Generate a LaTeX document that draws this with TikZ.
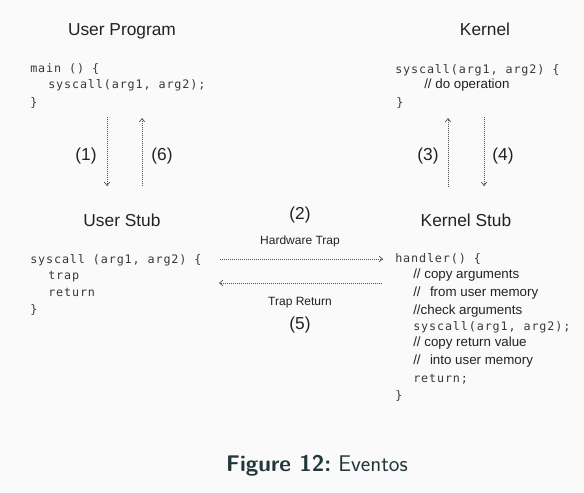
\documentclass[tikz,border=0pt]{standalone}
\usepackage{fontspec}
\setmainfont{Liberation Sans}
\newfontfamily\codefont[LetterSpace=7.5]{DejaVu Sans Mono}
\usetikzlibrary{arrows.meta}
\definecolor{ink}{HTML}{222222}
\definecolor{slide}{HTML}{FAFAFA}
\definecolor{captionink}{HTML}{23373B}
\tikzset{
  head/.style={font=\fontsize{13}{15}\selectfont, text=ink, inner sep=0pt, anchor=base},
  code/.style={font=\codefont\fontsize{8.8}{12}\selectfont, text=ink!90, inner sep=0pt, anchor=base west},
  note/.style={font=\fontsize{10}{12}\selectfont, text=ink, inner sep=0pt, anchor=base west},
  trapname/.style={font=\fontsize{9}{11}\selectfont, text=ink, inner sep=0pt, anchor=base},
  flow/.style={densely dotted, draw=ink!80, line width=0.5pt, -{Straight Barb[length=2.5pt,width=4pt]}}
}
\begin{document}
\begin{tikzpicture}[x=0.75pt, y=-0.75pt]
\fill[slide] (0,0) rectangle (584,492);
\useasboundingbox (0,0) rectangle (584,492);

% user program
\node [head] (userprog) at (122,36) {User Program};
\node [code] (main1) at (30,72) {main () \{};
\node [code] (main2) at (48,89) {syscall(arg1, arg2);};
\node [code] (main3) at (30,106) {\}};

% kernel
\node [head] (kernel) at (485,36) {Kernel};
\node [code] (kern1) at (395,73) {syscall(arg1, arg2) \{};
\node [note] (kern2) at (424,89) {// do operation};
\node [code] (kern3) at (396,106) {\}};

% user stub
\node [head] (userstub) at (122,226) {User Stub};
\node [code] (ustub1) at (30,263) {syscall (arg1, arg2) \{};
\node [code] (ustub2) at (48,279) {trap};
\node [code] (ustub3) at (48,296) {return};
\node [code] (ustub4) at (30,313) {\}};

% kernel stub
\node [head] (kernstub) at (466,226) {Kernel Stub};
\node [code] (kstub1) at (395,262) {handler() \{};
\node [note] (kstub2) at (413,278) {// copy arguments};
\node [note] (kstub3) at (413,296) {//\hspace{7pt}from user memory};
\node [note] (kstub4) at (413,314) {//check arguments};
\node [code] (kstub5) at (413,330) {syscall(arg1, arg2);};
\node [note] (kstub6) at (413,346) {// copy return value};
\node [note] (kstub7) at (413,364) {//\hspace{7pt}into user memory};
\node [code] (kstub8) at (413,382) {return;};
\node [code] (kstub9) at (395,399) {\}};

% step labels
\node [head] (n1) at (86,160) {(1)};
\node [head] (n6) at (162,160) {(6)};
\node [head] (n3) at (428,160) {(3)};
\node [head] (n4) at (503,160) {(4)};
\node [head] (n2) at (300,219) {(2)};
\node [trapname] (hwtrap) at (300,244) {Hardware Trap};
\node [trapname] (trapret) at (300,305) {Trap Return};
\node [head] (n5) at (300,329) {(5)};

% arrow ends
\coordinate (callA) at (107,117);
\coordinate (callB) at (107,186);
\coordinate (backA) at (142,186);
\coordinate (backB) at (142,118);
\coordinate (enterA) at (448,187);
\coordinate (enterB) at (448,118);
\coordinate (leaveA) at (484,117);
\coordinate (leaveB) at (484,186);
\coordinate (trapA) at (220,259);
\coordinate (trapB) at (383,259);
\coordinate (retA) at (382,283);
\coordinate (retB) at (219,283);

\draw [flow] (callA) -- (callB);
\draw [flow] (backA) -- (backB);
\draw [flow] (enterA) -- (enterB);
\draw [flow] (leaveA) -- (leaveB);
\draw [flow] (trapA) -- (trapB);
\draw [flow] (retA) -- (retB);

% caption
\node [font=\sffamily\fontsize{17}{20}\selectfont, text=captionink, inner sep=0pt, anchor=base] (caption) at (317,471) {\textbf{Figure 12:}\ Eventos};
\end{tikzpicture}
\end{document}
